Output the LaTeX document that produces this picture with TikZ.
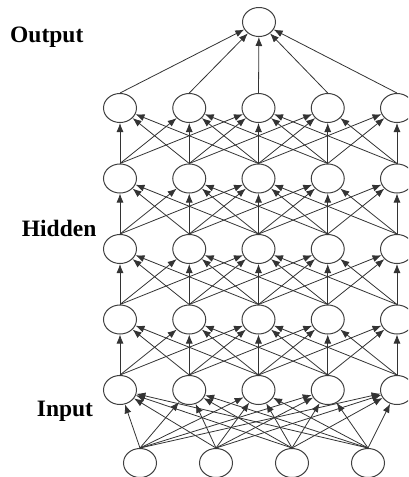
\documentclass[tikz,border=0pt]{standalone}
\usepackage{fontspec}
\setmainfont{Liberation Serif}
\usetikzlibrary{shapes.geometric,arrows.meta}
\tikzset{
  neuron/.style={draw=black!75, line width=1pt, ellipse, minimum width=33pt, minimum height=29pt, inner sep=0pt, fill=white},
  conn/.style={draw=black!80, line width=0.8pt, -{Latex[length=9pt,width=7pt]}},
  lbl/.style={anchor=base west, inner sep=0pt, font=\fontsize{23.5}{28}\selectfont\bfseries}
}
\begin{document}
\begin{tikzpicture}[x=1pt,y=-1pt]
\useasboundingbox (0,0) rectangle (408,477);
\clip (0,0) rectangle (408,477);
% output
\node[neuron] (o) at (259,22) {};
% hidden rows
\foreach \r in {1,...,5}{
  \foreach \i in {1,...,5}{
    \node[neuron] (h\r\i) at ({120+69.25*(\i-1)},{108+70.5*(\r-1)}) {};
  }
}
% inputs
\foreach \i in {1,...,4}{
  \node[neuron] (x\i) at ({140+76*(\i-1)},463) {};
}
% output connections
\foreach \i in {1,...,5}{
  \draw[conn] (h1\i.north) -- (o);
}
% hidden to hidden (|i-j|<=2)
\foreach \r [evaluate=\r as \s using int(\r+1)] in {1,...,4}{
  \foreach \i in {1,...,5}{
    \foreach \j in {1,...,5}{
      \pgfmathtruncatemacro{\d}{abs(\i-\j)}
      \ifnum\d<3
        \draw[conn] (h\s\j.north) -- (h\r\i);
      \fi
    }
  }
}
% inputs to first hidden
\foreach \j in {1,...,4}{
  \foreach \i in {1,...,5}{
    \draw[conn] (x\j.north) -- (h5\i);
  }
}
% labels
\node[lbl] (lout) at (10,42.3) {Output};
\node[lbl] (lhid) at (21.7,236.7) {Hidden};
\node[lbl] (linp) at (36.7,416.7) {Input};
\end{tikzpicture}
\end{document}
